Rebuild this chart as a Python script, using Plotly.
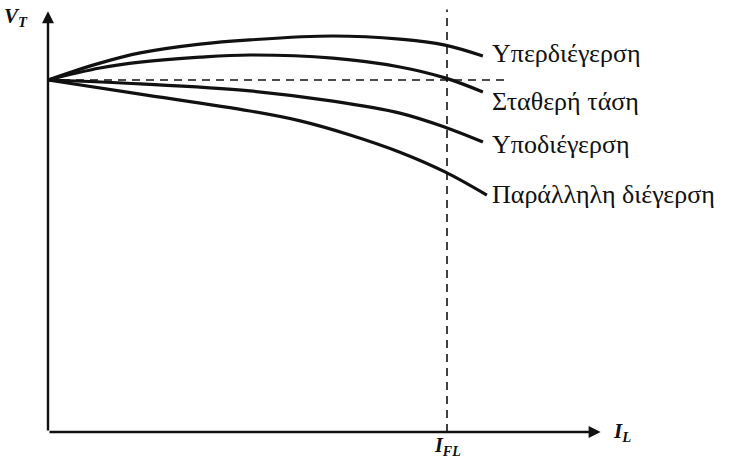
import plotly.graph_objects as go

# Load current I_L, normalised so that full-load current I_FL = 1
# Terminal voltage V_T, normalised so that the no-load voltage = 1
over_x = [0.0, 0.130, 0.231, 0.381, 0.506, 0.714, 0.882, 0.995, 1.090]
over_y = [1.0, 1.048, 1.077, 1.102, 1.114, 1.125, 1.116, 1.099, 1.068]

flat_x = [0.0, 0.130, 0.231, 0.381, 0.506, 0.714, 0.882, 0.995, 1.090]
flat_y = [1.0, 1.034, 1.051, 1.065, 1.071, 1.062, 1.037, 1.006, 0.966]

under_x = [0.0, 0.231, 0.506, 0.714, 0.882, 0.995, 1.090]
under_y = [1.0, 0.989, 0.969, 0.940, 0.906, 0.866, 0.824]

shunt_x = [0.0, 0.231, 0.506, 0.632, 0.757, 0.882, 0.995, 1.100]
shunt_y = [1.0, 0.960, 0.912, 0.884, 0.844, 0.795, 0.739, 0.673]

curve_labels = ["Υπερδιέγερση", "Σταθερή τάση", "Υποδιέγερση", "Παράλληλη διέγερση"]
label_y = [1.074, 0.94, 0.818, 0.676]

no_load_v = 1.0
full_load_i = 1.0

ink = "#111111"
serif = "Liberation Serif"

fig = go.Figure()

for xs, ys in [(over_x, over_y), (flat_x, flat_y), (under_x, under_y), (shunt_x, shunt_y)]:
    fig.add_trace(go.Scatter(x=xs, y=ys, mode="lines",
                             line=dict(color=ink, width=3.2, shape="spline", smoothing=1.0),
                             hoverinfo="skip", showlegend=False))

# Reference lines: constant no-load voltage and full-load current
fig.add_trace(go.Scatter(x=[0, 1.145], y=[no_load_v, no_load_v], mode="lines",
                         line=dict(color=ink, width=1.6, dash="8px,6px"),
                         hoverinfo="skip", showlegend=False))
fig.add_trace(go.Scatter(x=[full_load_i, full_load_i], y=[0, 1.2], mode="lines",
                         line=dict(color=ink, width=1.6, dash="8px,6px"),
                         hoverinfo="skip", showlegend=False))

annotations = []
# Axes with arrowheads
annotations.append(dict(x=0, y=1.195, ax=0, ay=0, xref="x", yref="y", axref="x", ayref="y",
                        text="", showarrow=True, arrowhead=2, arrowsize=1, arrowwidth=2.4,
                        arrowcolor=ink))
annotations.append(dict(x=1.385, y=0, ax=0, ay=0, xref="x", yref="y", axref="x", ayref="y",
                        text="", showarrow=True, arrowhead=2, arrowsize=1, arrowwidth=2.4,
                        arrowcolor=ink))

for txt, ly in zip(curve_labels, label_y):
    annotations.append(dict(x=1.108, y=ly, xref="x", yref="y", text=txt, showarrow=False,
                            xanchor="left", yanchor="middle",
                            font=dict(family=serif, size=26, color=ink)))

annotations.append(dict(x=-0.045, y=1.18, xref="x", yref="y",
                        text="<b><i>V<sub>T</sub></i></b>", showarrow=False,
                        xanchor="right", yanchor="middle",
                        font=dict(family=serif, size=21, color=ink)))
annotations.append(dict(x=1.41, y=0.0, xref="x", yref="y",
                        text="<b><i>I<sub>L</sub></i></b>", showarrow=False,
                        xanchor="left", yanchor="middle",
                        font=dict(family=serif, size=21, color=ink)))
annotations.append(dict(x=full_load_i, y=-0.042, xref="x", yref="y",
                        text="<b><i>I<sub>FL</sub></i></b>", showarrow=False,
                        xanchor="center", yanchor="middle",
                        font=dict(family=serif, size=20, color=ink)))

fig.update_layout(
    width=732, height=464,
    margin=dict(l=0, r=0, t=0, b=0),
    paper_bgcolor="white", plot_bgcolor="white",
    xaxis=dict(range=[-0.1203, 1.7143], visible=False, fixedrange=True),
    yaxis=dict(range=[-0.0909, 1.2273], visible=False, fixedrange=True),
    annotations=annotations,
    showlegend=False,
)

fig.write_html("out.html")
